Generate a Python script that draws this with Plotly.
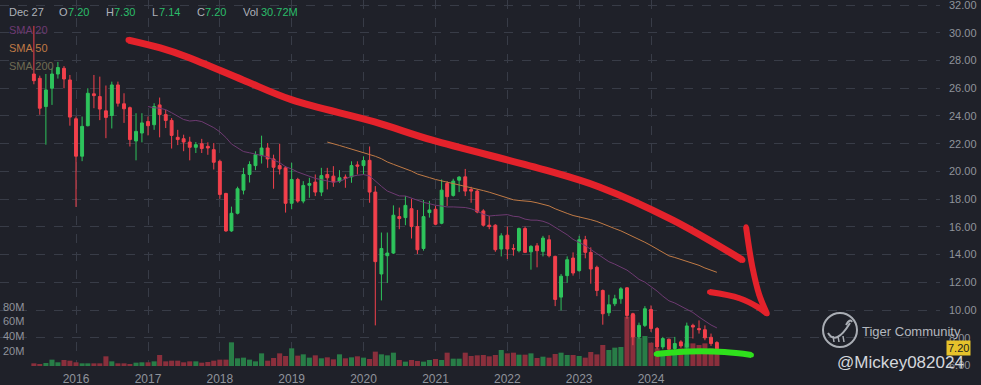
import pandas as pd
import plotly.graph_objects as go

# ---------------- data (monthly candles, Jun 2015 - Dec 2024) ----------------
months = pd.date_range("2015-06-01", periods=115, freq="MS")

open_ = [27.03, 26.72, 24.68, 26.0, 27.03, 27.44, 26.6, 23.8, 21.1, 23.3,
         25.6, 25.4, 24.37, 24.04, 26.24, 24.88, 24.6, 22.2, 22.77, 23.6,
         23.37, 24.8, 24.1, 23.68, 22.46, 22.36, 22.12, 21.74, 22.0, 21.81,
         21.57, 20.73, 18.41, 15.71, 16.98, 18.65, 19.78, 20.42, 21.14, 21.69,
         20.9, 20.42, 20.26, 17.7, 19.42, 17.86, 19.0, 19.23, 18.51, 19.78,
         19.66, 19.3, 19.59, 19.61, 20.47, 20.42, 20.8, 18.51, 12.6, 13.92,
         14.11, 16.74, 16.67, 17.31, 16.02, 14.44, 17.03, 17.27, 16.26, 19.13,
         18.27, 19.37, 19.61, 18.7, 18.58, 17.15, 16.12, 16.12, 14.4, 15.4,
         14.44, 14.28, 15.88, 14.2, 14.63, 14.23, 15.07, 13.87, 10.93, 12.48,
         13.75, 12.84, 15.07, 14.16, 13.08, 11.41, 9.8, 10.45, 10.81, 11.6,
         9.73, 8.06, 8.89, 10.04, 8.66, 7.34, 7.89, 7.22, 7.7, 7.34,
         8.89, 8.66, 8.58, 8.03, 7.65]
high = [30.5, 26.91, 27.03, 27.44, 27.9, 27.6, 26.96, 23.96, 23.96, 26.0,
        26.96, 26.84, 26.2, 26.48, 26.48, 25.64, 24.68, 24.2, 24.2, 23.96,
        24.92, 25.33, 24.44, 23.85, 23.0, 22.65, 22.5, 22.12, 22.35, 22.1,
        22.05, 20.85, 18.46, 17.46, 18.9, 20.26, 20.73, 21.45, 22.58, 22.05,
        21.21, 22.0, 20.38, 20.62, 19.54, 19.3, 19.54, 19.78, 20.26, 20.26,
        20.38, 20.09, 19.78, 20.73, 20.73, 21.09, 21.8, 18.94, 15.59, 15.59,
        17.55, 17.39, 18.22, 18.03, 17.22, 17.94, 17.87, 17.51, 19.42, 19.3,
        19.47, 19.66, 20.18, 18.89, 18.7, 17.27, 16.79, 16.19, 15.54, 16.02,
        14.75, 15.95, 16.02, 14.68, 14.83, 15.35, 15.4, 13.92, 12.6, 13.87,
        14.16, 15.35, 15.35, 14.52, 13.2, 11.48, 11.1, 11.1, 11.65, 11.65,
        9.8, 9.09, 10.28, 10.33, 8.77, 8.06, 7.94, 8.06, 7.82, 9.09,
        9.01, 9.25, 8.89, 8.3, 7.75]
low = [26.29, 24.09, 21.93, 24.8, 26.7, 26.0, 23.3, 17.44, 20.74, 23.25,
       24.56, 23.7, 22.4, 23.1, 24.68, 23.5, 21.8, 20.8, 22.1, 22.6,
       23.0, 22.46, 23.13, 21.65, 21.9, 21.46, 20.8, 21.33, 21.33, 21.2,
       20.14, 18.03, 15.64, 15.64, 16.9, 18.34, 19.2, 20.09, 20.57, 20.26,
       18.75, 19.78, 17.03, 17.27, 17.74, 17.7, 18.1, 18.22, 18.22, 18.7,
       18.89, 19.18, 18.82, 19.18, 19.78, 19.78, 17.74, 8.89, 10.69, 11.95,
       14.04, 15.83, 16.12, 15.16, 14.04, 14.28, 16.67, 16.12, 16.19, 17.51,
       18.18, 18.51, 18.22, 17.74, 16.98, 16.02, 15.83, 14.2, 13.87, 13.68,
       13.92, 14.16, 14.11, 12.91, 13.08, 13.87, 13.8, 10.28, 9.97, 11.96,
       12.48, 12.77, 13.73, 11.9, 11.0, 8.94, 9.56, 10.28, 10.45, 9.37,
       7.46, 7.94, 8.77, 8.42, 7.17, 7.17, 7.1, 7.1, 7.27, 7.22,
       7.94, 8.3, 7.82, 7.41, 7.14]
close = [26.55, 24.56, 25.88, 27.03, 27.5, 26.67, 23.92, 21.1, 23.25, 25.64,
         25.47, 24.5, 23.9, 26.24, 24.92, 24.52, 22.3, 22.89, 23.5, 23.3,
         24.68, 24.1, 23.68, 22.6, 22.3, 22.12, 21.74, 21.93, 21.65, 21.69,
         20.66, 18.34, 15.71, 16.98, 18.75, 19.78, 20.5, 21.21, 21.69, 20.9,
         20.3, 20.18, 17.7, 19.42, 17.86, 18.99, 19.13, 18.51, 19.7, 19.54,
         19.23, 19.54, 19.49, 20.42, 20.38, 20.78, 18.51, 13.49, 14.44, 14.11,
         16.84, 16.6, 17.55, 16.02, 14.35, 16.74, 17.22, 16.19, 18.65, 18.18,
         19.3, 19.59, 18.58, 18.58, 17.07, 16.12, 16.02, 14.35, 15.35, 14.4,
         14.4, 15.88, 14.16, 14.59, 14.28, 15.19, 13.92, 10.76, 12.44, 13.63,
         12.67, 15.07, 14.16, 12.96, 11.41, 9.73, 10.38, 10.81, 11.53, 9.61,
         8.06, 8.89, 10.09, 8.66, 7.34, 7.94, 7.17, 7.58, 7.41, 8.85,
         8.77, 8.58, 7.99, 7.58, 7.20]
volume_m = [3.6, 1.8, 4.1, 8.6, 5.0, 8.1, 7.2, 5.0, 3.6, 3.6,
            3.6, 3.6, 13.1, 6.3, 3.6, 3.6, 2.7, 4.5, 5.0, 5.0,
            6.3, 14.9, 6.3, 7.2, 7.2, 5.0, 6.3, 6.3, 4.5, 5.4,
            7.2, 8.6, 8.6, 32.0, 10.4, 11.3, 8.6, 6.3, 17.1, 7.2,
            10.8, 17.1, 13.5, 23.9, 14.0, 15.8, 11.3, 14.4, 10.4, 11.7,
            9.0, 15.8, 10.4, 11.7, 13.1, 11.3, 9.5, 19.4, 15.8, 14.4,
            18.0, 8.1, 5.9, 8.1, 6.8, 5.9, 8.1, 9.5, 8.1, 18.0,
            9.9, 9.9, 18.0, 13.5, 14.4, 14.9, 13.1, 14.9, 21.6, 17.1,
            18.0, 15.3, 15.3, 17.1, 10.8, 12.6, 11.3, 16.2, 18.0, 14.9,
            14.9, 13.5, 11.3, 18.9, 15.7, 28.4, 21.6, 24.8, 25.7, 66.6,
            68.9, 38.0, 40.5, 31.5, 23.9, 20.7, 20.7, 20.7, 23.9, 30.6,
            30.6, 28.4, 30.6, 23.9, 20.7]

year_labels = ["2016", "2017", "2018", "2019", "2020", "2021", "2022", "2023", "2024"]
price_ticks = [6, 8, 10, 12, 14, 16, 18, 20, 22, 24, 26, 28, 30, 32]
volume_ticks_m = [20, 40, 60, 80]

sma20 = pd.Series(close).rolling(20).mean()
sma50 = pd.Series(close).rolling(50).mean()

# hand-drawn overlay strokes: (months after Jun 2015, price)
red_curve = [(15.8, 29.48), (21.1, 28.91), (25.6, 28.26), (34.9, 26.6), (43.1, 25.16),
             (56.9, 23.57), (66.4, 22.27), (85.3, 20.11), (94.4, 18.88), (106.6, 16.5),
             (118.3, 13.61)]
red_arrow_a = [(118.9, 16.0), (119.95, 13.12), (121.1, 11.1), (122.4, 9.73)]
red_arrow_b = [(112.8, 11.3), (117.8, 10.85), (121.1, 10.15), (122.4, 9.73)]
green_stroke = [(103.9, 6.83), (109.45, 7.01), (115.3, 6.97), (119.8, 6.76)]

# ---------------- style ----------------
BG = "#1f2129"
GRID = "#383c47"
TICK = "#8f939b"
UP = "#2ec45c"
DOWN = "#f2404c"
VUP = "#287d47"
VDOWN = "#8a2f3c"
FONT = "Liberation Sans, Arial, sans-serif"
PLOT_W, PLOT_H = 940, 366

ref = pd.Timestamp("2016-01-01")
px_per_day = 575 / 2922
x_left = ref - pd.Timedelta(days=76 / px_per_day)
x_right = ref + pd.Timedelta(days=(PLOT_W - 76) / px_per_day)
base = pd.Timestamp("2015-06-01")


def mdate(m):
    return base + pd.Timedelta(days=m * 30.437)


def px(x):
    return x / PLOT_W


def py(y):
    return 1 - y / PLOT_H


fig = go.Figure()

vol_colors = [VUP if c >= o else VDOWN for o, c in zip(open_, close)]
fig.add_trace(go.Bar(x=months, y=[v * 1e6 for v in volume_m], marker_color=vol_colors,
                     marker_line_width=0, yaxis="y", hoverinfo="skip"))

fig.add_trace(go.Candlestick(
    x=months, open=open_, high=high, low=low, close=close, yaxis="y2",
    increasing=dict(line=dict(color=UP, width=1), fillcolor=UP),
    decreasing=dict(line=dict(color=DOWN, width=1), fillcolor=DOWN),
    whiskerwidth=0))

fig.add_trace(go.Scatter(x=months, y=sma20, mode="lines", yaxis="y2",
                         line=dict(color="#6e3a72", width=1)))
fig.add_trace(go.Scatter(x=months, y=sma50, mode="lines", yaxis="y2",
                         line=dict(color="#c07a45", width=1)))

for pts, col, w in [(red_curve, "#e4222b", 7), (red_arrow_a, "#e4222b", 6),
                    (red_arrow_b, "#e4222b", 6), (green_stroke, "#2fe01c", 6)]:
    fig.add_trace(go.Scatter(
        x=[mdate(m) for m, _ in pts], y=[p for _, p in pts], yaxis="y2",
        mode="lines+markers", line=dict(color=col, width=w, shape="spline", smoothing=1),
        marker=dict(color=col, size=w - 1), hoverinfo="skip"))

annotations = []
GREY = "#aeb2ba"
GREEN_TXT = "#2bbd6a"
header = [("Dec 27", 8, GREY), ("O", 58, GREY), ("7.20", 67, GREEN_TXT),
          ("H", 105, GREY), ("7.30", 113, GREEN_TXT), ("L", 151, GREY),
          ("7.14", 158, GREEN_TXT), ("C", 196, GREY), ("7.20", 204, GREEN_TXT),
          ("Vol", 242, GREY), ("30.72M", 260, GREEN_TXT)]
for txt, x, col in header:
    annotations.append(dict(text=txt, x=px(x), y=py(12), xref="paper", yref="paper",
                            xanchor="left", yanchor="middle", showarrow=False, borderpad=0,
                            font=dict(family=FONT, size=11, color=col)))
for txt, y, col in [("SMA 20", 30, "#6e3a72"), ("SMA 50", 48, "#c07a45"),
                    ("SMA 200", 66, "#6f6b52")]:
    annotations.append(dict(text=txt, x=px(8), y=py(y), xref="paper", yref="paper",
                            xanchor="left", yanchor="middle", showarrow=False, borderpad=0,
                            font=dict(family=FONT, size=11, color=col)))
# last price tag
annotations.append(dict(text="7.20", x=px(959), y=py(348), xref="paper", yref="paper",
                        xanchor="center", yanchor="middle", showarrow=False, borderpad=1,
                        bgcolor="#e6c22b", font=dict(family=FONT, size=11, color="#1d1d1d")))
# watermark
annotations.append(dict(text="Tiger Community", x=px(861), y=py(331), xref="paper", yref="paper",
                        xanchor="left", yanchor="middle", showarrow=False, borderpad=0,
                        font=dict(family=FONT, size=13, color="#b4b8bf")))
annotations.append(dict(text="@Mickey082024", x=px(836), y=py(362), xref="paper", yref="paper",
                        xanchor="left", yanchor="middle", showarrow=False, borderpad=0,
                        font=dict(family=FONT, size=17, color="#d4d7dc")))

shapes = [
    dict(type="circle", xref="paper", yref="paper", x0=px(823), x1=px(857), y0=py(347), y1=py(313),
         line=dict(color="#a9adb4", width=2)),
    dict(type="path", xref="paper", yref="paper",
         path=f"M {px(828)} {py(333)} Q {px(836)} {py(346)} {px(850)} {py(323)}",
         line=dict(color="#a9adb4", width=2)),
    dict(type="path", xref="paper", yref="paper",
         path=f"M {px(846)} {py(325)} Q {px(850)} {py(318)} {px(852)} {py(322)}",
         line=dict(color="#a9adb4", width=2)),
]
for x in [833, 838, 843]:
    shapes.append(dict(type="line", xref="paper", yref="paper", x0=px(x), x1=px(x + 1),
                       y0=py(336), y1=py(342), line=dict(color="#a9adb4", width=1.5)))

fig.update_layout(
    width=981, height=385, template="none",
    margin=dict(l=0, r=41, t=0, b=19),
    paper_bgcolor=BG, plot_bgcolor=BG, showlegend=False,
    bargap=0.08, boxgap=0.25,
    xaxis=dict(type="date", range=[x_left, x_right],
               tickvals=[pd.Timestamp(f"{y}-01-01") for y in year_labels], ticktext=year_labels,
               showgrid=True, gridcolor=GRID, griddash="dash", gridwidth=1,
               zeroline=False, showline=False, ticks="", ticklabelstandoff=4,
               tickfont=dict(family=FONT, size=12, color=TICK),
               rangeslider=dict(visible=False), automargin=False),
    yaxis=dict(range=[0, PLOT_H / 14.8 * 20e6], side="left",
               tickvals=[v * 1e6 for v in volume_ticks_m], ticktext=[f"{v}M" for v in volume_ticks_m],
               ticklabelposition="inside", showgrid=False, zeroline=False, showline=False,
               ticks="", tickfont=dict(family=FONT, size=11, color=TICK), automargin=False),
    yaxis2=dict(overlaying="y", side="right", range=[5.96, 32.37],
                tickvals=price_ticks, ticktext=[f"{v:.2f}" for v in price_ticks],
                showgrid=True, gridcolor=GRID, griddash="dash", gridwidth=1,
                zeroline=False, showline=False, ticks="", ticklabelstandoff=8,
                ticklabeloverflow="allow",
                tickfont=dict(family=FONT, size=11, color=TICK), automargin=False),
    annotations=annotations, shapes=shapes,
)

fig.write_html("out.html", config={"displayModeBar": False},
               post_script="document.body.style.margin='0px';"
                           "document.body.style.background='#1f2129';")
